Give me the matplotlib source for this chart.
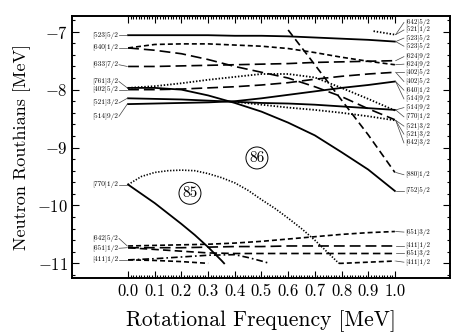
import matplotlib
matplotlib.use("Agg")
import matplotlib.pyplot as plt
import numpy as np

plt.rcParams['font.family'] = 'serif'
plt.rcParams['font.serif'] = ['cmr10']
plt.rcParams['mathtext.fontset'] = 'cm'
plt.rcParams['axes.unicode_minus'] = False

# rotational frequency grid [MeV]
omega = [0.0, 0.1, 0.2, 0.3, 0.4, 0.5, 0.6, 0.7, 0.8, 0.9, 1.0]

# upper group of routhians (values read on the omega grid)
e_523_52 = [-7.06, -7.06, -7.06, -7.06, -7.07, -7.07, -7.08, -7.10, -7.12, -7.14, -7.17]
e_640_12a = [-7.28, -7.22, -7.21, -7.21, -7.23, -7.25, -7.29, -7.36, -7.44, -7.51, -7.57]
e_640_12b = [-7.28, -7.32, -7.38, -7.48, -7.60, -7.70, -7.80, -7.95, -8.12, -8.33, -8.52]
e_633_72 = [-7.60, -7.60, -7.59, -7.58, -7.57, -7.56, -7.55, -7.53, -7.52, -7.51, -7.50]
e_761_32a = [-7.97, -7.94, -7.89, -7.83, -7.78, -7.73, -7.73, -7.79, -7.97, -8.16, -8.36]
e_761_32b = [-7.97, -7.97, -8.00, -8.10, -8.23, -8.38, -8.57, -8.79, -9.08, -9.38, -9.75]
e_402_52 = [-8.00, -8.00, -7.99, -7.97, -7.95, -7.92, -7.88, -7.82, -7.77, -7.73, -7.70]
e_521_32 = [-8.15, -8.16, -8.17, -8.19, -8.21, -8.23, -8.24, -8.26, -8.29, -8.32, -8.35]
e_514_92 = [-8.25, -8.24, -8.23, -8.22, -8.20, -8.15, -8.09, -8.03, -7.97, -7.92, -7.86]

w_521_dot = [0.4, 0.5, 0.6, 0.7, 0.8, 0.9, 1.0]
e_521_dot = [-8.21, -8.26, -8.31, -8.35, -8.40, -8.46, -8.53]
w_880 = [0.6, 0.7, 0.8, 0.9, 1.0]
e_880 = [-6.97, -7.57, -8.18, -8.78, -9.43]
w_642_top = [0.92, 0.96, 1.0]
e_642_top = [-6.99, -7.02, -7.05]

# lower group
w_770 = [0.0, 0.05, 0.1, 0.15, 0.2, 0.25, 0.3, 0.35, 0.36]
e_770_sol = [-9.64, -9.80, -9.96, -10.14, -10.32, -10.51, -10.72, -10.95, -11.0]
w_770_dot = [0.0, 0.05, 0.1, 0.15, 0.2, 0.25, 0.3, 0.35, 0.4, 0.45, 0.5, 0.55,
             0.6, 0.65, 0.7, 0.75, 0.79]
e_770_dot = [-9.64, -9.50, -9.43, -9.40, -9.39, -9.40, -9.45, -9.52, -9.61, -9.74,
             -9.90, -10.05, -10.22, -10.40, -10.60, -10.82, -11.0]
e_642_52 = [-10.70, -10.69, -10.68, -10.67, -10.65, -10.62, -10.58, -10.54, -10.50, -10.47, -10.45]
e_651_12a = [-10.73, -10.73, -10.73, -10.72, -10.71, -10.71, -10.70, -10.70, -10.70, -10.70, -10.70]
e_651_12b = [-10.73, -10.76, -10.79, -10.82, -10.83, -10.83, -10.83, -10.83, -10.83, -10.83, -10.83]
w_411a = [0.0, 0.1, 0.2, 0.3, 0.4, 0.45, 0.5, 0.53]
e_411a = [-10.94, -10.92, -10.89, -10.86, -10.85, -10.90, -10.96, -11.0]
w_411b = [0.0, 0.1, 0.2, 0.3]
e_411b = [-10.94, -10.95, -10.97, -11.0]
w_low = [0.79, 0.8, 0.9, 1.0]
e_low = [-11.0, -11.0, -10.98, -10.96]

# labels on the left: name, label height, curve start
left_names = ['[523]5/2', '[640]1/2', '[633]7/2', '[761]3/2', '[402]5/2', '[521]3/2',
              '[514]9/2', '[770]1/2', '[642]5/2', '[651]1/2', '[411]1/2']
left_lab = [-7.06, -7.28, -7.57, -7.86, -8.00, -8.23, -8.46, -9.64, -10.57, -10.74, -10.94]
left_start = [-7.06, -7.28, -7.60, -7.97, -8.00, -8.15, -8.25, -9.64, -10.70, -10.73, -10.94]

# labels on the right: name, label height, curve end
right_names = ['[642]5/2', '[521]1/2', '[523]5/2', '[523]5/2', '[624]9/2', '[624]9/2',
               '[402]5/2', '[402]5/2', '[640]1/2', '[514]9/2', '[514]9/2', '[770]1/2',
               '[521]3/2', '[521]3/2', '[642]3/2', '[880]1/2', '[752]5/2',
               '[651]3/2', '[411]1/2', '[651]3/2', '[411]1/2']
right_lab = [-6.84, -6.97, -7.11, -7.25, -7.43, -7.56, -7.70, -7.86, -8.01, -8.16, -8.31,
             -8.47, -8.63, -8.77, -8.92, -9.47, -9.75, -10.46, -10.70, -10.83, -10.98]
right_end = [-7.05, -7.05, -7.17, -7.17, -7.50, -7.57, -7.70, -7.70, -7.86, -7.86, -8.35,
             -8.35, -8.53, -8.53, -8.53, -9.43, -9.75, -10.45, -10.70, -10.83, -10.96]

# line styles
SOLID = '-'
DOT = (0, (0.8, 1.0))
SDASH = (0, (3, 1.8))
MDASH = (0, (4.5, 2.5))
LDASH = (0, (6.5, 3))
DDOT = (0, (4, 1.8, 1, 1.8))

fig = plt.figure(figsize=(4.74, 3.35), dpi=100)
ax = fig.add_axes([0.152, 0.170, 0.797, 0.783])

curves = [
    (omega, e_523_52, SOLID, 1.3),
    (omega, e_640_12a, SDASH, 1.2),
    (omega, e_640_12b, LDASH, 1.2),
    (omega, e_633_72, LDASH, 1.2),
    (omega, e_761_32a, DOT, 1.3),
    (omega, e_761_32b, SOLID, 1.3),
    (omega, e_402_52, LDASH, 1.2),
    (omega, e_521_32, SOLID, 1.3),
    (omega, e_514_92, SOLID, 1.3),
    (w_521_dot, e_521_dot, DOT, 1.3),
    (w_880, e_880, MDASH, 1.2),
    (w_642_top, e_642_top, DOT, 1.3),
    (w_770, e_770_sol, SOLID, 1.3),
    (w_770_dot, e_770_dot, DOT, 1.2),
    (omega, e_642_52, SDASH, 1.2),
    (omega, e_651_12a, LDASH, 1.2),
    (omega, e_651_12b, MDASH, 1.2),
    (w_411a, e_411a, DDOT, 1.2),
    (w_411b, e_411b, SDASH, 1.2),
    (w_low, e_low, SDASH, 1.2),
]
for w, e, ls, lw in curves:
    ax.plot(w, e, color='black', linestyle=ls, linewidth=lw)

# left labels with connectors
for name, yl, ys in zip(left_names, left_lab, left_start):
    ax.plot([-0.034, -0.003], [yl, ys], color='0.25', linewidth=0.5)
    ax.text(-0.037, yl, name, fontsize=5.3, ha='right', va='center')

# right labels with connectors
for name, yl, ye in zip(right_names, right_lab, right_end):
    ax.plot([1.003, 1.034], [ye, yl], color='0.25', linewidth=0.5)
    ax.text(1.04, yl, name, fontsize=5.0, ha='left', va='center')

# particle numbers
ax.text(0.483, -9.18, '86', fontsize=11, ha='center', va='center',
        bbox=dict(boxstyle='circle,pad=0.22', fc='white', ec='black', lw=0.7))
ax.text(0.232, -9.79, '85', fontsize=11, ha='center', va='center',
        bbox=dict(boxstyle='circle,pad=0.22', fc='white', ec='black', lw=0.7))

ax.set_xlim(-0.21, 1.206)
ax.set_ylim(-11.254, -6.724)

x_major = [0.0, 0.1, 0.2, 0.3, 0.4, 0.5, 0.6, 0.7, 0.8, 0.9, 1.0]
y_major = [-7, -8, -9, -10, -11]
ax.set_xticks(x_major, labels=['%.1f' % v for v in x_major])
ax.set_xticks(np.arange(0, 101) / 100.0, minor=True)
ax.set_yticks(y_major, labels=[r'$-%d$' % abs(v) for v in y_major])
ax.set_yticks(np.arange(-11.2, -6.7, 0.2), minor=True)

ax.tick_params(which='both', direction='in', top=True, right=True, width=0.8)
ax.tick_params(which='major', length=5, labelsize=12)
ax.tick_params(which='minor', length=2.5)
ax.tick_params(axis='x', pad=4)
ax.tick_params(axis='y', pad=3)
for s in ax.spines.values():
    s.set_linewidth(1.4)

ax.set_xlabel('Rotational Frequency [MeV]', fontsize=15.5, labelpad=8)
ax.set_ylabel('Neutron Routhians [MeV]', fontsize=13, labelpad=4)

fig.savefig('out.png', dpi=100)
